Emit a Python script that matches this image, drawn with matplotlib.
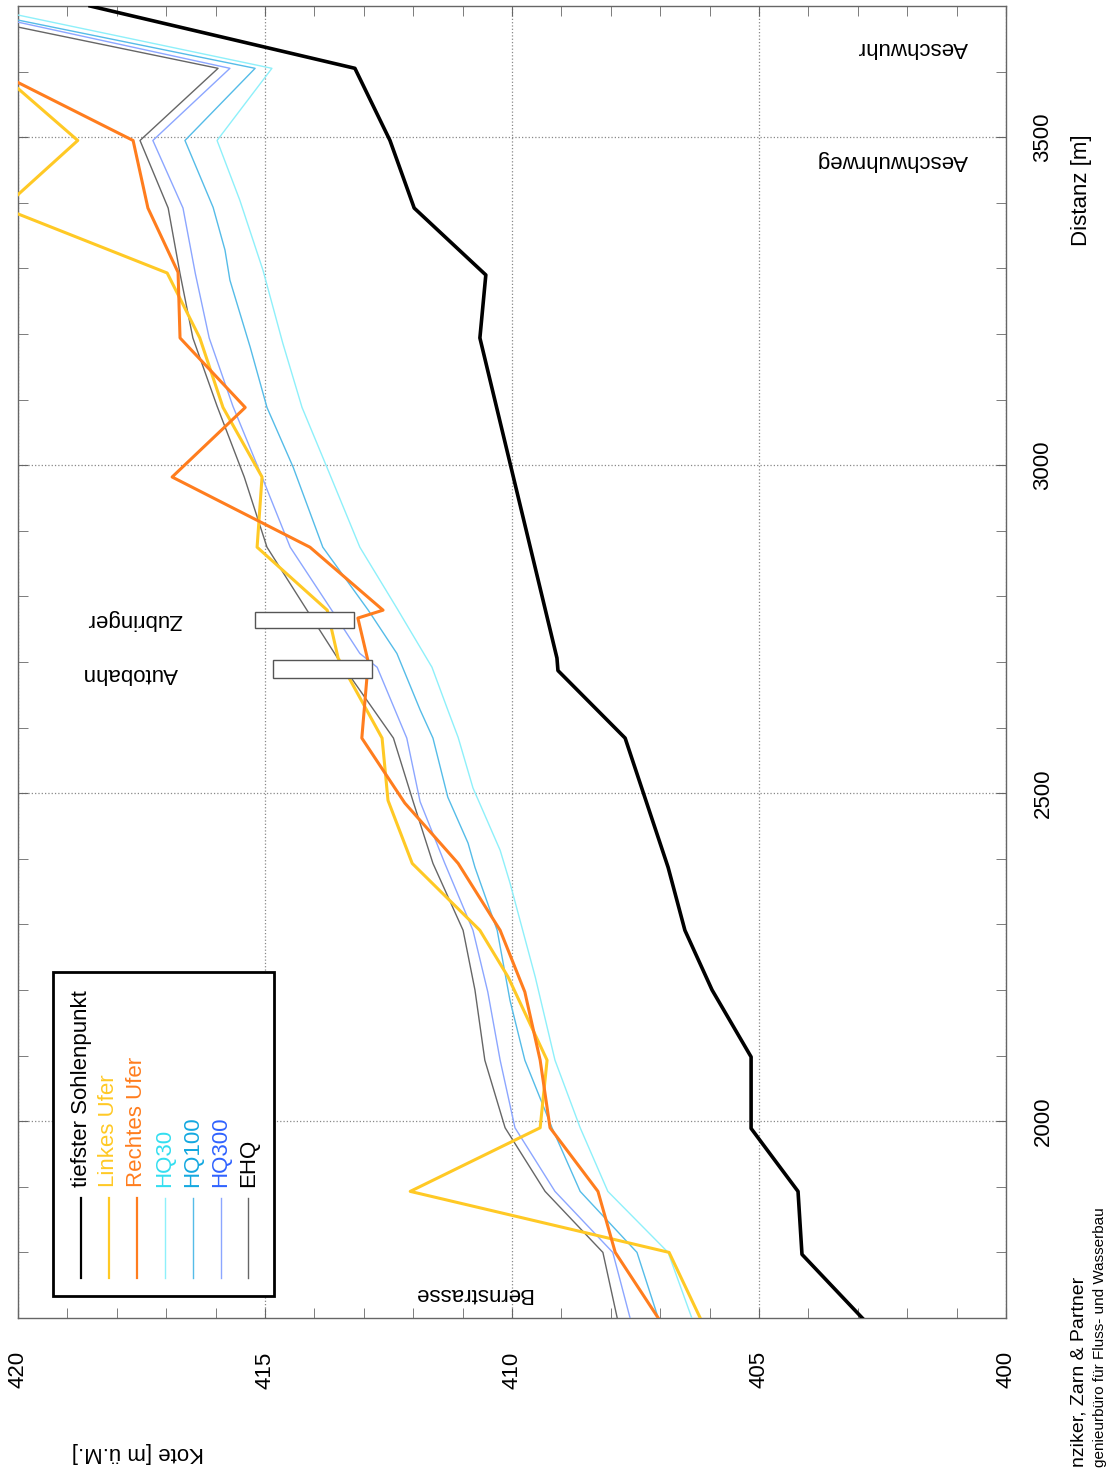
import matplotlib
matplotlib.use("Agg")
import matplotlib.pyplot as plt
from matplotlib.patches import Rectangle
from matplotlib.ticker import MultipleLocator

plt.rcParams['font.family'] = ['Liberation Sans', 'DejaVu Sans']

# Laengenprofil: Distanz [m] und Kote [m ue.M.]
sohle_d = [1700, 1797, 1893, 1989, 2098, 2200, 2291, 2387, 2584, 2687, 2706,
           3194, 3290, 3392, 3495, 3605, 3700]
sohle_k = [402.91, 404.13, 404.21, 405.16, 405.16, 405.95, 406.50, 406.84, 407.71,
           409.07, 409.09, 410.65, 410.53, 411.98, 412.47, 413.18, 418.54]

links_d = [1700, 1800, 1893, 1990, 2093, 2220, 2291, 2393, 2489, 2584, 2706, 2779,
           2875, 2982, 3088, 3194, 3293, 3392, 3495, 3605]
links_k = [406.19, 406.82, 412.06, 409.43, 409.29, 410.08, 410.65, 412.02, 412.51,
           412.63, 413.52, 413.74, 415.16, 415.06, 415.85, 416.32, 416.98, 420.3,
           418.79, 420.47]

rechts_d = [1700, 1800, 1893, 1990, 2093, 2197, 2291, 2393, 2485, 2584, 2700, 2767,
            2779, 2875, 2982, 3088, 3194, 3294, 3392, 3495, 3605]
rechts_k = [407.04, 407.91, 408.26, 409.23, 409.43, 409.74, 410.24, 411.09, 412.17,
            413.04, 412.91, 413.12, 412.61, 414.09, 416.88, 415.40, 416.72, 416.76,
            417.37, 417.67, 420.57]

hq30_d = [1700, 1800, 1893, 1990, 2093, 2220, 2363, 2413, 2508, 2585, 2627, 2692,
          2782, 2875, 2992, 3088, 3186, 3297, 3404, 3495, 3605, 3700]
hq30_k = [406.36, 406.84, 408.06, 408.62, 409.13, 409.53, 410.04, 410.24, 410.79,
          411.09, 411.30, 411.62, 412.33, 413.08, 413.72, 414.25, 414.64, 415.04,
          415.51, 415.97, 414.86, 420.87]

hq100_d = [1700, 1800, 1893, 1990, 2093, 2184, 2291, 2387, 2424, 2494, 2584, 2627,
           2713, 2779, 2875, 2997, 3088, 3180, 3282, 3328, 3393, 3495, 3605, 3700]
hq100_k = [407.04, 407.47, 408.62, 409.19, 409.74, 410.04, 410.30, 410.75, 410.89,
           411.30, 411.60, 411.86, 412.33, 412.91, 413.83, 414.43, 414.96, 415.30,
           415.71, 415.81, 416.05, 416.62, 415.20, 421.4]

hq300_d = [1700, 1800, 1893, 1990, 2093, 2197, 2291, 2393, 2487, 2584, 2692, 2713,
           2779, 2875, 2982, 3090, 3194, 3292, 3392, 3495, 3605, 3700]
hq300_k = [407.61, 407.96, 409.13, 409.94, 410.24, 410.49, 410.79, 411.36, 411.86,
           412.13, 412.73, 413.08, 413.65, 414.49, 415.06, 415.65, 416.13, 416.41,
           416.66, 417.27, 415.71, 421.5]

ehq_d = [1700, 1800, 1893, 1990, 2093, 2200, 2291, 2393, 2487, 2584, 2700, 2779,
         2875, 2982, 3090, 3194, 3292, 3392, 3495, 3605, 3700]
ehq_k = [407.87, 408.16, 409.33, 410.14, 410.55, 410.75, 410.99, 411.60, 412.00,
         412.40, 413.48, 414.15, 414.96, 415.42, 415.97, 416.46, 416.72, 416.96,
         417.53, 415.95, 422.07]

# Bruecken: (Name, Distanz von, Distanz bis, Kote unten, Kote oben)
bruecken = [("Autobahn", 2675, 2703, 412.83, 414.84),
            ("Zubringer", 2752, 2776, 413.20, 415.20)]

# Ortsbezeichnungen: (Text, Kote, Distanz)
orte = [("Aeschwuhr", 400.77, 3637), ("Aeschwuhrweg", 400.77, 3465),
        ("Zubringer", 416.68, 2765), ("Autobahn", 416.76, 2683),
        ("Bernstrasse", 409.60, 1738)]

serien = [
    ("tiefster Sohlenpunkt", sohle_d, sohle_k, "black", "black", 2.6),
    ("Linkes Ufer", links_d, links_k, "#ffc925", "#ffc925", 2.2),
    ("Rechtes Ufer", rechts_d, rechts_k, "#ff7d1e", "#ff7d1e", 2.2),
    ("HQ30", hq30_d, hq30_k, "#8ef0fa", "#33def0", 1.0),
    ("HQ100", hq100_d, hq100_k, "#55bce8", "#13a8e0", 1.0),
    ("HQ300", hq300_d, hq300_k, "#8ca6ff", "#2f62ff", 1.0),
    ("EHQ", ehq_d, ehq_k, "#666666", "black", 1.0),
]
zorders = [6, 4, 5, 3, 3, 3, 3]

fig = plt.figure(figsize=(11.09, 14.69), dpi=100)
ax = fig.add_axes([18 / 1109, 1 - 1318 / 1469, 988 / 1109, 1312 / 1469])

for (name, d, k, col, tcol, lw), z in zip(serien, zorders):
    ax.plot(k, d, color=col, lw=lw, zorder=z)

for name, d0, d1, k0, k1 in bruecken:
    ax.add_patch(Rectangle((k0, d0), k1 - k0, d1 - d0, facecolor="white",
                           edgecolor="#555555", lw=1.0, zorder=7))

for txt, k, d in orte:
    ax.text(k, d, txt, rotation=180, ha="right", va="center", fontsize=16, zorder=8)

ax.set_xlim(420, 400)
ax.set_ylim(1700, 3700)
ax.set_xticks([420, 415, 410, 405, 400])
ax.xaxis.set_minor_locator(MultipleLocator(1))
ax.set_yticks([2000, 2500, 3000, 3500])
ax.yaxis.set_minor_locator(MultipleLocator(100))
ax.grid(True, which="major", linestyle=":", color="#888888", lw=0.9, zorder=0)
ax.set_axisbelow(True)

ax.tick_params(axis="x", which="both", direction="in", top=True, bottom=True,
               length=7, color="#666666", labelsize=16, pad=24, labelrotation=90)
ax.tick_params(axis="y", which="both", direction="in", left=True, right=True,
               labelleft=False, labelright=True, length=7, color="#666666",
               labelsize=16, pad=19, labelrotation=90)
for lab in ax.get_yticklabels():
    lab.set_va("center")
for sp in ax.spines.values():
    sp.set_color("#666666")
    sp.set_linewidth(1.0)

# Legende von Hand, gedreht
ax.add_patch(Rectangle((0.0354, 0.0168), 0.2237, 0.2469, transform=ax.transAxes,
                       facecolor="white", edgecolor="black", lw=2.0, zorder=9))
for i, (name, d, k, col, tcol, lw) in enumerate(serien):
    fx = 0.0638 + i * 0.02824
    ax.plot([fx, fx], [0.0305, 0.0915], transform=ax.transAxes, color=col,
            lw=min(lw, 1.6), zorder=10)
    ax.text(fx, 0.0998, name, transform=ax.transAxes, rotation=90, ha="center",
            va="bottom", fontsize=16, color=tcol, zorder=10)

fig.text(1081 / 1109, 1 - 190 / 1469, "Distanz [m]", rotation=90, ha="center",
         va="center", fontsize=16)
fig.text(138 / 1109, 1 - 1453 / 1469, "Kote [m ü.M.]", rotation=180, ha="center",
         va="center", fontsize=16)
fig.text(1079 / 1109, 1 - 1467 / 1469, "nziker, Zarn & Partner", rotation=90,
         ha="center", va="bottom", fontsize=14)
fig.text(1100 / 1109, 1 - 1467 / 1469, "genieurbüro für Fluss- und Wasserbau",
         rotation=90, ha="center", va="bottom", fontsize=11)

fig.savefig("out.png", dpi=100)
